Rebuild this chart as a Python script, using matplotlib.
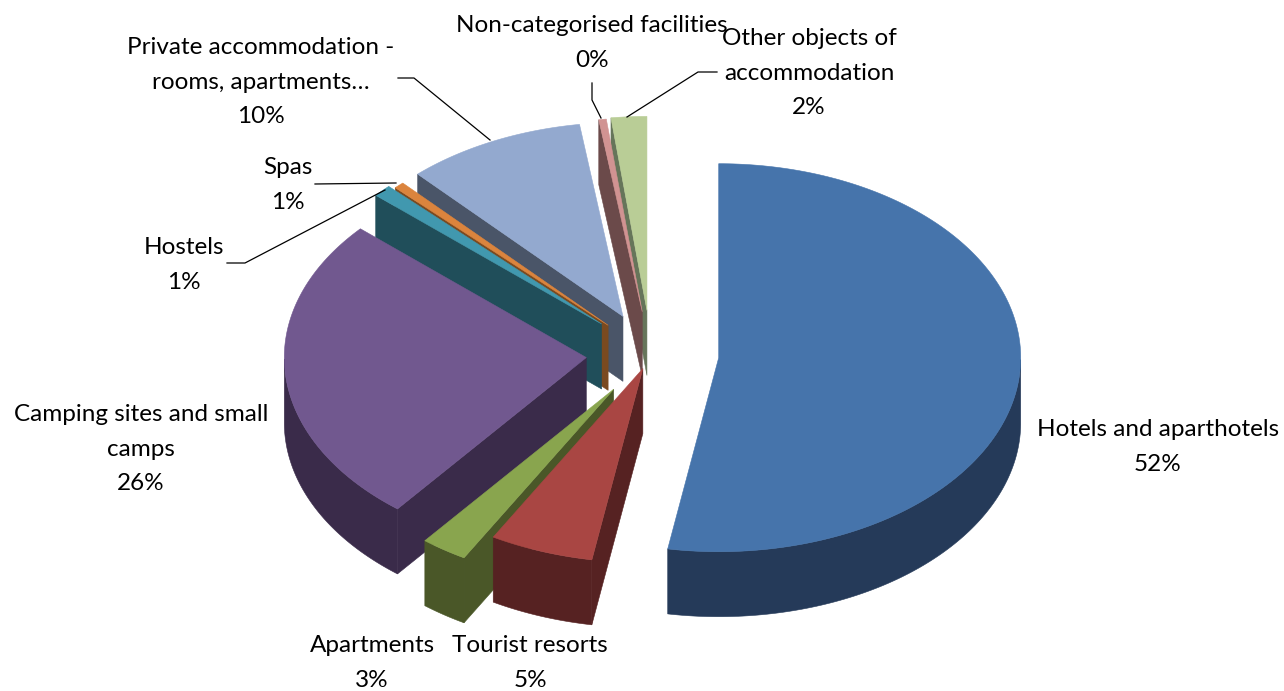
import numpy as np
import matplotlib
matplotlib.use("Agg")
import matplotlib.pyplot as plt
from matplotlib.patches import Polygon

# ---- data ----
categories = ["Hotels and aparthotels", "Tourist resorts", "Apartments",
              "Camping sites and small\ncamps", "Hostels", "Spas",
              "Private accommodation -\nrooms, apartments…",
              "Non-categorised facilities", "Other objects of\naccommodation"]
shares = [52.7, 5.55, 2.5, 25.8, 1.0, 0.55, 9.6, 0.4, 1.9]
pct_labels = ["52%", "5%", "3%", "26%", "1%", "1%", "10%", "0%", "2%"]

# ---- style ----
explode = [0.225, 0.08, 0.22, 0.215, 0.225, 0.205, 0.215, 0.22, 0.225]
top_colors = ["#4674AB", "#A94643", "#89A54E", "#71588F", "#4198AF",
              "#DB843D", "#93A9CF", "#D19392", "#B9CD96"]
side_colors = ["#253A59", "#562222", "#4A5728", "#3A2B4A", "#204E5A",
               "#7A4A20", "#4A5568", "#6B4A4A", "#66755A"]
draw_order = [8, 7, 6, 5, 4, 3, 2, 1, 0]
CX, CY, RX, RY, DEPTH = 651, 354, 302, 194, 65
FS = 17.5
label_pos = [(1158, 447), (530, 663), (372, 663), (141, 449), (184, 265),
             (288, 185), (261, 82), (592, 43), (809, 73)]
leaders = [None, None, None, None,
           [(227, 263), (245, 263), (385, 190)],
           [(315, 184), (396, 183)],
           [(398, 78), (414, 78), (490, 140)],
           [(592, 83), (592, 100), (601, 118)],
           [(717, 72), (698, 72), (627, 117)]]

plt.rcParams["font.family"] = ["Lato", "DejaVu Sans"]
fig = plt.figure(figsize=(12.84, 6.91), dpi=100)
ax = fig.add_axes([0, 0, 1, 1])
ax.set_xlim(0, 1284)
ax.set_ylim(691, 0)
ax.axis("off")

fractions = np.array(shares) / sum(shares)
edges = np.concatenate([[0], np.cumsum(fractions)]) * 2 * np.pi


def rim(apex, t):
    return apex[0] + RX * np.sin(t), apex[1] - RY * np.cos(t)


def face(pts, color, z):
    ax.add_patch(Polygon(pts, closed=True, facecolor=color, edgecolor=color,
                         linewidth=0.4, zorder=z))


for z, i in enumerate(draw_order):
    t0, t1 = edges[i], edges[i + 1]
    mid = (t0 + t1) / 2
    apex = (CX + explode[i] * RX * np.sin(mid), CY - explode[i] * RY * np.cos(mid))
    ts = np.linspace(t0, t1, 200)
    xs, ys = rim(apex, ts)
    # radial walls facing the viewer
    if xs[0] < apex[0]:
        face([apex, (xs[0], ys[0]), (xs[0], ys[0] + DEPTH),
              (apex[0], apex[1] + DEPTH)], side_colors[i], z * 3)
    if apex[0] < xs[-1]:
        face([apex, (xs[-1], ys[-1]), (xs[-1], ys[-1] + DEPTH),
              (apex[0], apex[1] + DEPTH)], side_colors[i], z * 3)
    # outer wall, front half only
    front = (ts > np.pi / 2) & (ts < 3 * np.pi / 2)
    if front.any():
        fx, fy = xs[front], ys[front]
        pts = list(zip(fx, fy)) + list(zip(fx[::-1], fy[::-1] + DEPTH))
        face(pts, side_colors[i], z * 3 + 1)
    # top face
    face([apex] + list(zip(xs, ys)), top_colors[i], z * 3 + 2)

for i, (name, pct) in enumerate(zip(categories, pct_labels)):
    x, y = label_pos[i]
    ax.text(x, y, f"{name}\n{pct}", ha="center", va="center", fontsize=FS,
            linespacing=1.8, color="black", zorder=100)
    if leaders[i]:
        lx, ly = zip(*leaders[i])
        ax.plot(lx, ly, color="black", lw=0.9, zorder=99)

fig.savefig("out.png", dpi=100)
